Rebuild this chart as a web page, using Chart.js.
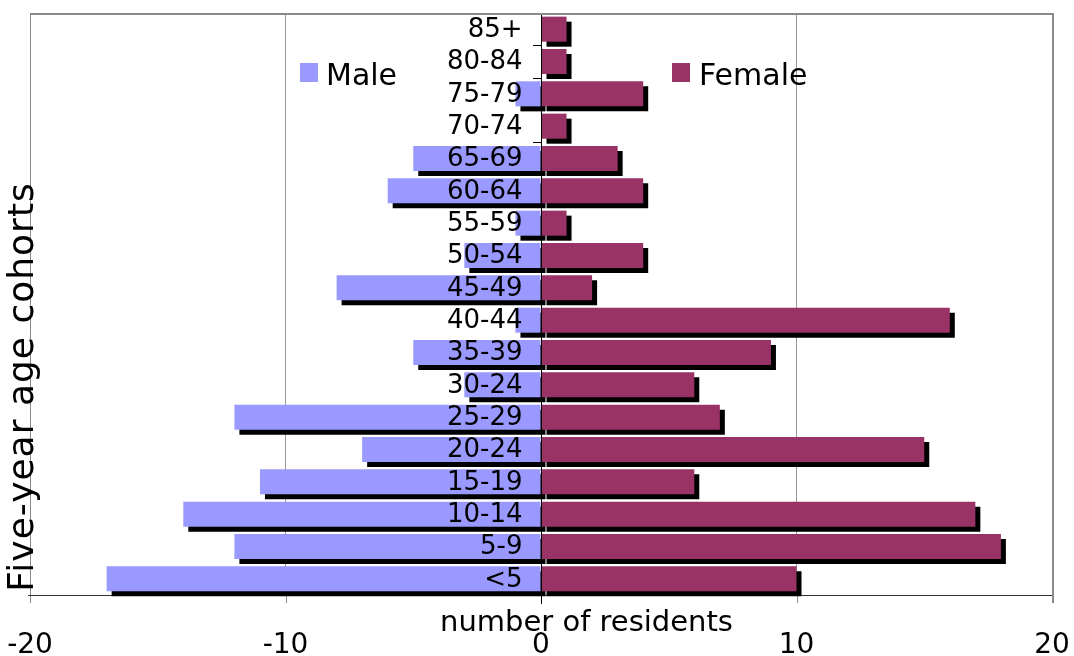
<!DOCTYPE html>
<html>
<head>
<meta charset="utf-8">
<title>Five-year age cohorts</title>
<script src="https://cdn.jsdelivr.net/npm/chart.js@4.4.1/dist/chart.umd.min.js"></script>
<style>
  html, body { margin: 0; padding: 0; background: #fff; }
  #wrap { width: 1074px; height: 656px; position: relative; }
</style>
</head>
<body>
<div id="wrap"><canvas id="pyramid" width="1074" height="656"></canvas></div>
<script>
// Age cohorts, youngest first (drawn bottom to top)
const ageCohorts = ['<5', '5-9', '10-14', '15-19', '20-24', '25-29', '30-24', '35-39', '40-44',
  '45-49', '50-54', '55-59', '60-64', '65-69', '70-74', '75-79', '80-84', '85+'];

// Residents per cohort (males plotted to the left as negatives)
const maleResidents = [-17, -12, -14, -11, -7, -12, -3, -5, -1, -8, -3, -1, -6, -5, 0, -1, 0, 0];
const femaleResidents = [10, 18, 17, 6, 15, 7, 6, 9, 16, 2, 4, 1, 4, 3, 1, 4, 1, 1];

// Horizontal axis ticks
const residentTicks = [-20, -10, 0, 10, 20];

const MALE_COLOR = '#9999FF';
const FEMALE_COLOR = '#993366';
const FONT = '"DejaVu Sans", Verdana, sans-serif';

// Hard drop shadow under every bar
const barShadow = {
  id: 'barShadow',
  beforeDatasetDraw(chart) {
    const c = chart.ctx;
    c.save();
    c.shadowColor = '#000';
    c.shadowOffsetX = 5;
    c.shadowOffsetY = 5;
    c.shadowBlur = 0;
  },
  afterDatasetDraw(chart) {
    chart.ctx.restore();
  }
};

// Frame, axis lines, tick marks and all text
const decorations = {
  id: 'decorations',
  beforeDatasetsDraw(chart) {
    const { ctx, chartArea: a, scales: { x, y } } = chart;
    const x0 = x.getPixelForValue(0);
    ctx.save();
    // category boundary ticks on the zero axis
    ctx.strokeStyle = '#000';
    ctx.lineWidth = 1;
    const n = ageCohorts.length;
    const step = (a.bottom - a.top) / n;
    ctx.beginPath();
    for (let k = 0; k <= n; k++) {
      const yy = Math.round(a.top + k * step) + 0.5;
      ctx.moveTo(x0 - 8, yy);
      ctx.lineTo(x0, yy);
    }
    ctx.stroke();
    // frame: left thin, top/right heavier gray
    ctx.strokeStyle = '#8a8a8a';
    ctx.lineWidth = 1;
    ctx.beginPath();
    ctx.moveTo(a.left + 0.5, a.top);
    ctx.lineTo(a.left + 0.5, a.bottom + 8);
    ctx.stroke();
    ctx.lineWidth = 2;
    ctx.beginPath();
    ctx.moveTo(a.left, a.top + 1);
    ctx.lineTo(a.right + 1, a.top + 1);
    ctx.lineTo(a.right + 1, a.bottom + 8);
    ctx.stroke();
    // tick marks below the horizontal axis
    ctx.lineWidth = 1;
    ctx.beginPath();
    residentTicks.forEach(v => {
      const px = Math.round(x.getPixelForValue(v)) + 0.5;
      ctx.moveTo(px, a.bottom);
      ctx.lineTo(px, a.bottom + 8);
    });
    ctx.stroke();
    // bottom axis line
    ctx.strokeStyle = '#333';
    ctx.beginPath();
    ctx.moveTo(a.left - 2, a.bottom + 0.5);
    ctx.lineTo(a.right, a.bottom + 0.5);
    ctx.stroke();
    ctx.restore();
  },
  afterDatasetsDraw(chart) {
    const { ctx, chartArea: a, scales: { x, y } } = chart;
    const x0 = Math.round(x.getPixelForValue(0)) + 0.5;
    ctx.save();
    // zero axis
    ctx.strokeStyle = '#000';
    ctx.lineWidth = 1;
    ctx.beginPath();
    ctx.moveTo(x0, a.top + 2);
    ctx.lineTo(x0, a.bottom + 9);
    ctx.stroke();

    ctx.fillStyle = '#000';
    // cohort labels, right aligned left of the zero axis
    ctx.font = '26px ' + FONT;
    ctx.textAlign = 'right';
    ctx.textBaseline = 'middle';
    ageCohorts.forEach((lab, i) => {
      ctx.fillText(lab, x0 - 19, y.getPixelForValue(i) + 1);
    });

    // horizontal tick labels
    ctx.font = '28px ' + FONT;
    ctx.textAlign = 'center';
    ctx.textBaseline = 'alphabetic';
    residentTicks.forEach(v => {
      ctx.fillText(String(v), x.getPixelForValue(v), 653);
    });

    // horizontal axis title
    ctx.font = '29px ' + FONT;
    ctx.textAlign = 'left';
    ctx.fillText('number of residents', 440, 631);

    // vertical axis title
    ctx.save();
    ctx.font = '36px ' + FONT;
    ctx.letterSpacing = '1px';
    ctx.translate(33, 387);
    ctx.rotate(-Math.PI / 2);
    ctx.textAlign = 'center';
    ctx.fillText('Five-year age cohorts', 0, 0);
    ctx.restore();

    // legend
    ctx.font = '30px ' + FONT;
    ctx.textAlign = 'left';
    const legend = [
      { label: 'Male', color: MALE_COLOR, sx: 300, tx: 326 },
      { label: 'Female', color: FEMALE_COLOR, sx: 672, tx: 699 }
    ];
    legend.forEach(it => {
      ctx.fillStyle = it.color;
      ctx.fillRect(it.sx, 63, 18, 19);
      ctx.fillStyle = '#000';
      ctx.fillText(it.label, it.tx, 85);
    });
    ctx.restore();
  }
};

new Chart(document.getElementById('pyramid'), {
  type: 'bar',
  data: {
    labels: ageCohorts,
    datasets: [
      {
        label: 'Male',
        data: maleResidents,
        backgroundColor: MALE_COLOR,
        borderWidth: 0,
        order: 2,
        clip: false
      },
      {
        label: 'Female',
        data: femaleResidents,
        backgroundColor: FEMALE_COLOR,
        borderWidth: 0,
        order: 1,
        clip: false
      }
    ]
  },
  options: {
    indexAxis: 'y',
    responsive: false,
    animation: false,
    events: [],
    layout: { padding: { left: 30, right: 22, top: 13, bottom: 61 } },
    datasets: { bar: { barPercentage: 0.775, categoryPercentage: 1 } },
    scales: {
      x: {
        type: 'linear',
        min: -20,
        max: 20,
        stacked: true,
        ticks: { display: false, stepSize: 10 },
        border: { display: false },
        grid: {
          drawTicks: false,
          color: ctx => (ctx.tick && Math.abs(ctx.tick.value) === 10) ? '#999' : 'rgba(0,0,0,0)'
        }
      },
      y: {
        type: 'category',
        reverse: true,
        stacked: true,
        display: false
      }
    },
    plugins: {
      legend: { display: false },
      tooltip: { enabled: false },
      title: { display: false }
    }
  },
  plugins: [barShadow, decorations]
});
</script>
</body>
</html>
